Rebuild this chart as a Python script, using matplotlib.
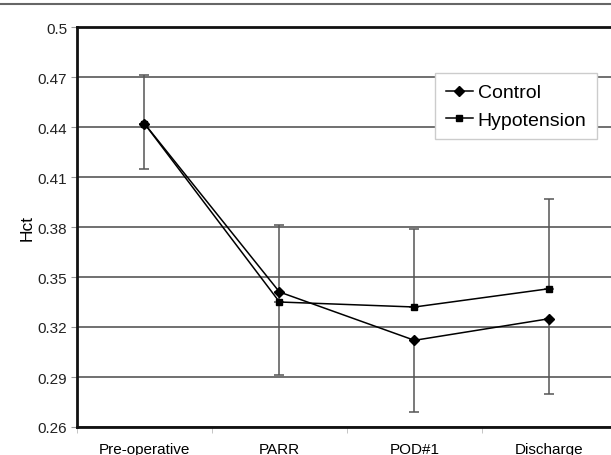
import matplotlib
matplotlib.use("Agg")
import matplotlib.pyplot as plt
from matplotlib.lines import Line2D
import numpy as np

plt.rcParams['font.family'] = ['Liberation Sans', 'DejaVu Sans']

# values
stages = ['Pre-operative', 'PARR', 'POD#1', 'Discharge']
control = [0.442, 0.341, 0.312, 0.325]
control_err_low = [0.027, 0.050, 0.043, 0.045]
hypotension = [0.442, 0.335, 0.332, 0.343]
hypotension_err_high = [0.029, 0.046, 0.047, 0.054]
yticks = [0.26, 0.29, 0.32, 0.35, 0.38, 0.41, 0.44, 0.47, 0.5]
ytick_labels = ['0.26', '0.29', '0.32', '0.35', '0.38', '0.41', '0.44', '0.47', '0.5']

x = np.arange(len(stages))

fig = plt.figure(figsize=(6.11, 4.56), dpi=100)
ax = fig.add_axes([77 / 611, 28 / 456, 534 / 611, 400 / 456])

# error bars: control downwards, hypotension upwards
zeros = [0] * len(stages)
ax.errorbar(x, control, yerr=[control_err_low, zeros], fmt='none',
            ecolor='#555555', elinewidth=1.1, capsize=3.5, capthick=1.1, zorder=2)
ax.errorbar(x, hypotension, yerr=[zeros, hypotension_err_high], fmt='none',
            ecolor='#555555', elinewidth=1.1, capsize=3.5, capthick=1.1, zorder=2)

ax.plot(x, control, color='black', linewidth=1.1, marker='D', markersize=5,
        label='Control', zorder=3)
ax.plot(x, hypotension, color='black', linewidth=1.1, marker='s', markersize=4.5,
        label='Hypotension', zorder=3)

ax.set_xlim(-0.5, 3.456)
ax.set_ylim(0.26, 0.5)
ax.set_yticks(yticks)
ax.set_yticklabels(ytick_labels)
ax.set_xticks(x)
ax.set_xticklabels(stages)
ax.set_xticks([-0.5, 0.5, 1.5, 2.5], minor=True)
ax.tick_params(axis='x', which='major', length=0, pad=11, labelsize=11)
ax.tick_params(axis='x', which='minor', length=4, color='#bbbbbb', direction='out')
ax.tick_params(axis='y', length=4, color='#999999', labelsize=11, labelcolor='#222222', pad=3)

ax.grid(axis='y', color='#707070', linewidth=1.4)
ax.set_axisbelow(True)
for side in ['left', 'bottom', 'top']:
    ax.spines[side].set_linewidth(2)
    ax.spines[side].set_color('#111111')
ax.spines['right'].set_visible(False)

ax.set_ylabel('Hct', fontsize=12.5, labelpad=2)

leg = ax.legend(loc='upper left', bbox_to_anchor=(358 / 534, 1 - 46 / 400),
                fontsize=14, frameon=True, fancybox=False, framealpha=1,
                edgecolor='#cccccc', handlelength=1.4, handletextpad=0.25,
                labelspacing=0.5, borderpad=0.55, borderaxespad=0)
leg.get_frame().set_linewidth(1.0)

# page rule at the top
fig.add_artist(Line2D([0, 1], [1 - 5 / 456, 1 - 5 / 456], color='#666666', linewidth=1.5))

fig.savefig('out.png', dpi=100)
